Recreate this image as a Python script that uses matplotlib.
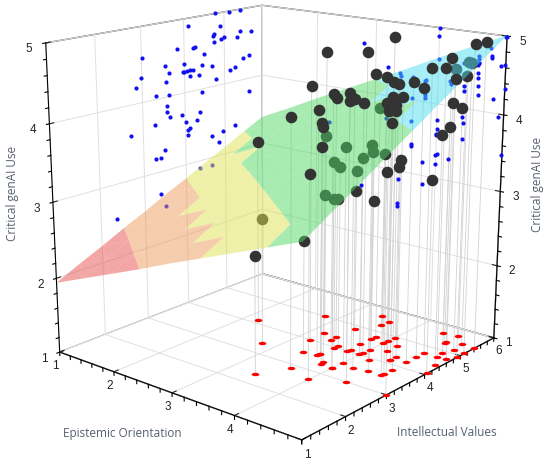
import numpy as np
import matplotlib
matplotlib.use("Agg")
import matplotlib.pyplot as plt
import matplotlib.tri as mtri
from matplotlib.markers import MarkerStyle
from matplotlib.transforms import Affine2D
from matplotlib.colors import ListedColormap, BoundaryNorm

# data
epistemic = [4.00,2.80,3.99,4.99,5.00,4.01,3.40,3.20,3.41,3.60,4.39,3.79,3.82,3.79,3.60,4.61,4.60,4.60,4.60,4.79,4.61,4.78,4.60,4.80,4.93,4.99,4.20,4.19,4.60,3.80,4.60,4.40,4.40,5.00,3.59,3.61,3.60,3.81,3.19,3.60,4.00,4.39,4.20,3.60,3.99,4.00,3.61,3.99,3.41,3.99,4.02,4.40,4.99,4.20,3.79,4.00,3.40,3.79,3.40,4.61,4.83,4.40,4.92,2.21,2.79,3.39]
intellectual = [4.78,5.00,4.10,5.12,5.41,4.27,5.64,3.98,4.20,3.97,3.01,4.00,4.07,4.36,5.48,3.83,4.22,4.49,4.71,4.73,5.33,4.90,5.71,5.42,4.73,4.91,4.68,4.42,3.55,4.77,3.62,4.14,4.14,2.98,3.55,2.86,3.62,3.31,4.36,3.62,3.57,3.57,3.92,5.27,4.01,3.28,4.07,2.71,4.84,4.65,4.94,4.29,4.07,3.49,3.39,3.28,4.35,4.66,3.50,5.28,5.13,5.63,4.43,4.12,3.38,2.34]
genai_use = [5.00,4.66,4.89,4.99,4.99,4.60,4.33,4.39,4.29,4.29,4.59,4.28,4.29,4.20,4.30,4.61,4.59,4.48,4.70,4.72,4.62,4.82,4.66,4.70,4.61,4.63,4.29,4.33,4.42,4.09,4.32,4.29,4.22,4.33,4.20,4.21,4.02,4.05,3.69,3.72,3.79,3.88,3.71,3.38,3.59,3.66,3.40,3.60,3.19,3.31,3.33,3.59,3.48,3.29,3.19,3.19,2.89,2.89,2.50,4.20,4.18,3.81,3.96,3.49,2.69,2.54]

# fitted surface, heights read on a half-unit grid
surf_x = [1, 1.5, 2, 2.5, 3, 3.5, 4, 4.5, 5]
surf_y = [1, 1.5, 2, 2.5, 3, 3.5, 4, 4.5, 5, 5.5, 6]
surf_z = [
    [1.94, 2.11, 2.28, 2.45, 2.63, 2.80, 2.97, 3.14, 3.31],
    [2.09, 2.26, 2.43, 2.61, 2.78, 2.96, 3.13, 3.31, 3.48],
    [2.23, 2.41, 2.59, 2.76, 2.94, 3.12, 3.30, 3.47, 3.65],
    [2.38, 2.56, 2.74, 2.92, 3.10, 3.28, 3.46, 3.64, 3.82],
    [2.52, 2.70, 2.89, 3.07, 3.26, 3.44, 3.62, 3.81, 3.99],
    [2.67, 2.85, 3.04, 3.23, 3.41, 3.60, 3.79, 3.97, 4.16],
    [2.81, 3.00, 3.19, 3.38, 3.57, 3.76, 3.95, 4.14, 4.33],
    [2.96, 3.15, 3.34, 3.53, 3.73, 3.92, 4.11, 4.31, 4.50],
    [3.10, 3.30, 3.49, 3.69, 3.89, 4.08, 4.28, 4.47, 4.67],
    [3.25, 3.44, 3.64, 3.84, 4.04, 4.24, 4.44, 4.64, 4.84],
    [3.39, 3.59, 3.80, 4.00, 4.20, 4.40, 4.61, 4.81, 5.01],
]
band_levels = [1.0, 2.4, 2.85, 3.25, 4.2, 5.5]
band_colors = ['#e94f4f', '#ed9a5a', '#e0e252', '#50d865', '#4ddcf0']

x = np.array(epistemic)
y = np.array(intellectual)
z = np.array(genai_use)

fig = plt.figure(figsize=(5.5, 4.67), dpi=100)
ax = fig.add_axes([0.0098, -0.0084, 0.9706, 1.1431], projection='3d', computed_zorder=False)
ax.set_xlim(1, 5); ax.set_ylim(1, 6); ax.set_zlim(1, 5)
ax.set_box_aspect((1, 1, 1))
ax.set_proj_type('persp', focal_length=0.5)
ax.view_init(elev=16, azim=-50)

for a in (ax.xaxis, ax.yaxis, ax.zaxis):
    a.set_pane_color((1, 1, 1, 1))
    a.pane.set_edgecolor('#555555')
    a.line.set_color('black')
    a._axinfo['grid'].update(color='#e0e0e0', linewidth=0.7)
    a._axinfo['tick'].update(inward_factor=0.0, outward_factor=0.22)

ax.set_xticks([1, 2, 3, 4, 5]); ax.set_xticklabels(['1', '2', '3', '4', ''])
ax.set_yticks([1, 2, 3, 4, 5, 6])
ax.set_zticks([1, 2, 3, 4, 5])
ax.zaxis.set_ticks_position('both')
for a in (ax.xaxis, ax.yaxis, ax.zaxis):
    for t in a.get_ticklabels():
        t.set_family('Liberation Sans')
ax.tick_params(labelsize=8.5, colors='#222222')
ax.xaxis.set_tick_params(pad=-4)
ax.yaxis.set_tick_params(pad=-4)
ax.zaxis.set_tick_params(pad=-1)

# minor ticks (drawn by hand so they get no grid lines)
lz = 0.65 * 0.22 * 4 / 12
ly = 0.65 * 0.22 * 5 / 12
for v in np.arange(1, 5.01, 0.2):
    ax.plot([v, v], [1, 1], [1, 1 - lz], color='black', lw=0.8, zorder=0.5)
for v in np.arange(1, 6.01, 0.2):
    ax.plot([5, 5], [v, v], [1, 1 - lz], color='black', lw=0.8, zorder=0.5)
for v in np.arange(1, 5.01, 0.2):
    ax.plot([1, 1], [1, 1 - ly], [v, v], color='black', lw=0.8, zorder=0.5)
    ax.plot([5, 5 + lz], [6, 6], [v, v], color='black', lw=0.8, zorder=0.5)

# surface grid split into triangles whose diagonals run along the colour bands
GX, GY = np.meshgrid(surf_x, surf_y)
GZ = np.array(surf_z)
nx = len(surf_x)
tris = []
for j in range(len(surf_y) - 1):
    for i in range(nx - 1):
        a0 = j * nx + i
        tris.append([a0, a0 + 1, a0 + nx])
        tris.append([a0 + 1, a0 + nx + 1, a0 + nx])
tri = mtri.Triangulation(GX.ravel(), GY.ravel(), tris)
zs = mtri.LinearTriInterpolator(tri, GZ.ravel())(x, y)
above = z >= zs

# drop lines, floor and wall projections
for i in range(len(x)):
    ax.plot([x[i], x[i]], [y[i], y[i]], [1, z[i]], color='#d2d2d2', lw=0.6, zorder=1)
ell = MarkerStyle('o', transform=Affine2D().scale(1, 0.45))
ax.scatter(x, y, np.ones_like(x), marker=ell, s=30, color='#ff0000', lw=0, zorder=2, depthshade=False)
ax.scatter(np.ones_like(x), y, z, s=9, color='#1010f0', lw=0, zorder=2, depthshade=False)
ax.scatter(x, np.full_like(x, 6), z, s=9, color='#1010f0', lw=0, zorder=2, depthshade=False)

ax.scatter(x[~above], y[~above], z[~above], s=70, color='#333333', lw=0, zorder=3, depthshade=False)
cmap = ListedColormap(band_colors)
norm = BoundaryNorm(band_levels, len(band_colors))
ax.plot_trisurf(tri, GZ.ravel(), cmap=cmap, norm=norm, alpha=0.5, linewidth=0,
                edgecolor='none', antialiased=True, shade=False, zorder=4)
ax.scatter(x[above], y[above], z[above], s=70, color='#333333', lw=0, zorder=5, depthshade=False)

lab = dict(fontsize=8.5, color='#56606e', family='Open Sans')
fig.text(13 / 550, 1 - 193 / 467, 'Critical genAI Use', rotation=90, ha='center', va='center', **lab)
fig.text(538 / 550, 1 - 184 / 467, 'Critical genAI Use', rotation=90, ha='center', va='center', **lab)
fig.text(122 / 550, 1 - 433 / 467, 'Epistemic Orientation', ha='center', va='center', **lab)
fig.text(447 / 550, 1 - 432 / 467, 'Intellectual Values', ha='center', va='center', **lab)

fig.savefig('out.png', dpi=100)
